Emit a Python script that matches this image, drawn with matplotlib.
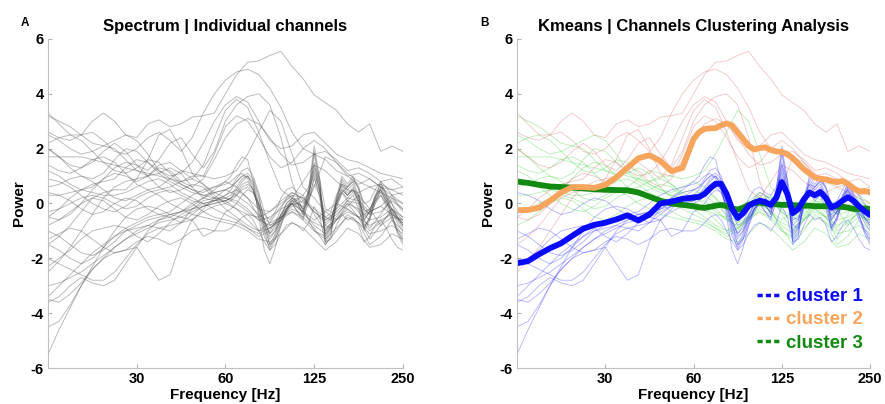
import matplotlib
matplotlib.use("Agg")
import matplotlib.pyplot as plt
from matplotlib.lines import Line2D

plt.rcParams["font.family"] = ["Liberation Sans", "DejaVu Sans"]
plt.rcParams["font.weight"] = "bold"
plt.rcParams["axes.unicode_minus"] = False

# frequency grids (Hz), log2-spaced: 1/8 octave, then 1/16 octave above 62.5 Hz
freq_coarse = [15.63, 17.04, 18.58, 20.26, 22.10, 24.10, 26.28, 28.66, 31.25,
               34.08, 37.16, 40.53, 44.19, 48.19, 52.56, 57.31, 62.5, 68.16,
               74.33, 81.05, 88.39, 96.39, 105.11, 114.63, 125.0, 136.31,
               148.65, 162.10, 176.78, 192.78, 210.22, 229.25, 250.0]
freq_fine = [15.63, 17.04, 18.58, 20.26, 22.10, 24.10, 26.28, 28.66, 31.25,
             34.08, 37.16, 40.53, 44.19, 48.19, 52.56, 57.31, 62.5, 65.26,
             68.16, 71.17, 74.33, 77.62, 81.05, 84.64, 88.39, 92.30, 96.39,
             100.66, 105.11, 109.77, 114.63, 119.70, 125.0, 130.53, 136.31,
             142.35, 148.65, 155.23, 162.10, 169.28, 176.78, 184.60, 192.78,
             201.31, 210.22, 219.53, 229.25, 239.40, 250.0]

tick_freqs = [31.25, 62.5, 125, 250]
tick_labels = ["30", "60", "125", "250"]

# cluster 1 channels (fine grid)
cluster1_channels = [
    [-5.5, -4.6, -3.8, -3.0, -2.4, -2.0, -1.6, -1.3, -1.1, -0.9, -0.7, -0.6, -0.5, -0.3, -0.1, 0.1,
     0.3, 0.5, 0.8, 1.0, 1.0, 0.6, -0.3, -1.2, -1.6, -1.2, -0.6, -0.2, 0.0, -0.3, -0.6, 0.2, 1.8,
     0.6, -1.3, -1.0, 0.1, 0.8, 0.5, 0.7, 0.2, -0.9, -0.5, 0.2, 0.6, 0.2, -0.4, -1.0, -1.4],
    [-4.5, -4.3, -3.7, -3.0, -2.3, -1.6, -1.2, -1.0, -0.9, -0.8, -0.9, -1.0, -0.7, -0.2, 0.1, 0.2,
     0.2, 0.3, 0.6, 0.9, 1.0, 0.7, 0.0, -0.9, -1.5, -1.1, -0.5, 0.0, 0.2, 0.0, -0.4, 0.3, 1.5,
     0.4, -1.2, -0.9, 0.0, 0.6, 0.3, 0.6, 0.0, -1.0, -0.6, 0.0, 0.5, 0.1, -0.5, -0.9, -1.2],
    [-3.6, -3.4, -3.0, -2.7, -2.9, -3.0, -2.8, -2.2, -1.6, -1.0, -0.6, -0.4, -0.3, -0.2, 0.0, 0.1,
     0.1, 0.2, 0.4, 0.7, 0.8, 0.5, -0.2, -1.0, -1.7, -1.3, -0.7, -0.2, 0.1, -0.1, -0.3, 0.4, 1.2,
     0.5, -1.0, -0.7, 0.2, 0.7, 0.4, 0.5, 0.1, -0.6, -0.3, 0.3, 0.5, 0.0, -0.3, -0.7, -1.0],
    [-3.5, -3.6, -3.3, -2.9, -2.4, -2.0, -1.8, -1.7, -1.6, -2.2, -2.8, -2.6, -1.4, -0.6, -1.2, -1.0,
     -0.3, -0.2, 0.0, 0.3, 0.5, 0.4, -0.1, -0.8, -1.3, -1.0, -0.6, -0.2, 0.0, -0.3, -0.5, 0.0, 1.0,
     0.2, -1.1, -0.8, -0.1, 0.4, 0.1, 0.3, -0.2, -0.9, -0.5, 0.0, 0.3, -0.1, -0.6, -1.0, -1.3],
    [-2.3, -2.0, -1.7, -1.3, -1.0, -0.9, -0.8, -0.9, -1.2, -1.4, -1.1, -0.7, -0.4, -0.2, -0.1, 0.0,
     0.1, 0.2, 0.5, 0.8, 1.0, 0.8, 0.2, -0.6, -1.2, -1.0, -0.4, 0.0, 0.2, 0.1, -0.2, 0.5, 1.9,
     0.8, -1.4, -1.1, 0.0, 0.9, 0.6, 0.8, 0.3, -0.6, -0.3, 0.3, 0.7, 0.3, -0.2, -0.6, -0.9],
    [-1.0, -1.2, -1.5, -1.8, -1.9, -1.7, -1.4, -1.0, -0.8, -0.6, -0.5, -0.4, -0.5, -0.6, -0.3, -0.1,
     0.0, 0.1, 0.3, 0.6, 0.7, 0.5, 0.0, -0.6, -1.1, -0.8, -0.4, -0.1, 0.1, 0.0, -0.2, 0.1, 0.7,
     0.3, -0.6, -0.5, 0.0, 0.4, 0.2, 0.4, 0.1, -0.4, -0.2, 0.1, 0.3, 0.0, -0.2, -0.5, -0.8],
    [-3.4, -3.0, -2.6, -2.2, -1.8, -1.5, -1.2, -0.9, -0.7, -0.5, -0.4, -0.5, -0.7, -0.6, -0.2, 0.2,
     0.5, 0.6, 0.8, 1.0, 1.1, 0.9, 0.3, -0.7, -1.5, -1.3, -0.8, -0.3, 0.1, 0.2, 0.0, 0.3, 1.3,
     0.7, -0.8, -0.9, -0.2, 0.4, 0.6, 0.9, 0.6, -0.2, -0.4, 0.1, 0.6, 0.4, 0.0, -0.5, -0.7],
    [-1.5, -1.7, -2.0, -2.2, -2.0, -1.6, -1.0, -0.5, -0.2, -0.1, -0.2, -0.4, -0.3, 0.0, 0.2, 0.4,
     0.5, 0.6, 0.9, 1.2, 1.3, 1.0, 0.4, -0.3, -0.8, -0.7, -0.2, 0.2, 0.4, 0.3, 0.1, 0.4, 1.1,
     0.5, -0.5, -0.6, 0.1, 0.5, 0.3, 0.5, 0.3, -0.3, -0.2, 0.2, 0.5, 0.2, 0.0, -0.3, -0.5],
    [-3.0, -2.9, -2.7, -2.5, -2.2, -1.9, -1.6, -1.3, -1.0, -0.8, -0.6, -0.5, -0.3, -0.1, 0.2, 0.5,
     0.8, 1.0, 1.4, 1.7, 1.6, 0.8, -0.5, -1.7, -2.2, -1.6, -0.8, -0.2, 0.2, 0.0, -0.4, 0.5, 2.1,
     0.9, -1.5, -1.2, 0.2, 1.0, 0.7, 1.0, 0.5, -0.8, -0.6, 0.2, 0.8, 0.3, -0.4, -1.1, -1.5],
    [-2.0, -2.2, -2.4, -2.6, -2.8, -2.8, -2.5, -2.0, -1.5, -1.1, -0.9, -0.8, -0.7, -0.4, -0.1, 0.0,
     0.1, 0.2, 0.3, 0.5, 0.6, 0.4, -0.1, -0.7, -1.1, -0.9, -0.5, -0.2, 0.0, 0.0, -0.1, 0.2, 0.9,
     0.4, -0.8, -0.6, 0.0, 0.5, 0.3, 0.5, 0.2, -0.5, -0.3, 0.1, 0.4, 0.1, -0.2, -0.4, -0.6],
    [-1.3, -1.1, -0.9, -1.0, -1.3, -1.6, -1.8, -1.7, -1.4, -1.2, -1.3, -1.5, -1.3, -1.0, -0.9, -1.0,
     -1.0, -0.9, -0.7, -0.5, -0.4, -0.6, -1.0, -1.4, -1.7, -1.5, -1.1, -0.8, -0.7, -0.8, -1.0, -0.7,
     -0.1, -0.5, -1.4, -1.3, -0.8, -0.4, -0.6, -0.5, -0.8, -1.4, -1.2, -0.8, -0.6, -0.9, -1.3, -1.6,
     -1.7],
    [0.4, 0.3, 0.1, -0.2, -0.4, -0.3, 0.0, 0.2, 0.1, -0.2, -0.4, -0.3, 0.0, 0.3, 0.5, 0.6,
     0.7, 0.8, 1.0, 1.1, 0.9, 0.5, 0.0, -0.4, -0.6, -0.3, 0.2, 0.5, 0.6, 0.4, 0.3, 0.6, 1.4,
     0.9, -0.2, -0.3, 0.3, 0.7, 0.6, 0.8, 0.6, 0.0, 0.1, 0.5, 0.8, 0.6, 0.3, 0.0, -0.2],
]

# cluster 2 channels (coarse grid)
cluster2_channels = [
    [3.3, 2.9, 2.5, 2.5, 3.0, 3.3, 3.0, 2.5, 2.4, 2.9, 3.05, 2.8, 2.9, 3.15, 3.2, 3.3, 4.0,
     4.7, 5.15, 5.2, 5.4, 5.55, 5.0, 4.55, 3.96, 3.68, 3.4, 2.9, 2.6, 2.9, 1.9, 2.1, 1.9],
    [2.6, 2.4, 2.3, 2.5, 2.6, 2.3, 1.9, 1.8, 2.0, 2.4, 2.6, 2.3, 1.9, 2.4, 3.3, 4.0, 4.5,
     4.8, 4.9, 4.7, 4.2, 3.5, 2.6, 2.0, 1.8, 1.9, 1.6, 1.2, 1.3, 1.1, 0.8, 0.9, 0.6],
    [2.0, 1.7, 1.4, 1.3, 1.5, 1.9, 2.2, 1.9, 1.4, 1.2, 1.6, 2.2, 2.4, 1.8, 1.3, 1.9, 3.0,
     3.6, 3.9, 4.0, 3.6, 2.4, 0.8, -0.3, 0.6, 1.7, 1.5, 1.0, 0.7, 0.9, 0.6, 0.3, 0.4],
    [-0.5, -0.2, 0.2, 0.5, 0.7, 0.8, 0.9, 1.3, 1.6, 1.5, 1.2, 1.0, 1.1, 1.5, 2.2, 3.0, 3.6,
     3.9, 3.7, 3.0, 2.3, 2.0, 2.1, 2.5, 2.6, 2.2, 1.8, 1.6, 1.5, 1.3, 1.1, 1.0, 0.9],
    [-1.5, -1.2, -0.8, -0.3, 0.2, 0.4, 0.5, 0.5, 0.9, 1.6, 2.5, 2.7, 2.0, 1.1, 1.0, 1.8, 2.8,
     3.2, 3.0, 2.4, 1.7, 1.3, 1.5, 2.0, 2.3, 2.0, 1.5, 1.1, 0.8, 0.6, 0.7, 0.5, 0.3],
    [-0.5, -0.6, -0.4, 0.0, 0.5, 0.9, 1.1, 1.0, 0.8, 1.0, 1.3, 1.2, 0.8, 0.6, 0.9, 1.6, 2.4,
     2.9, 3.1, 2.9, 2.4, 1.8, 1.4, 1.5, 1.8, 1.6, 1.2, 1.0, 1.1, 0.9, 0.6, 0.5, 0.6],
    [-2.5, -2.1, -1.6, -1.0, -0.4, 0.2, 0.6, 0.8, 0.9, 1.0, 1.4, 1.5, 1.2, 0.9, 1.4, 2.4, 3.4,
     3.8, 3.5, 2.6, 1.5, 0.5, 0.2, 0.8, 1.4, 1.2, 0.8, 0.5, 0.4, 0.6, 0.4, 0.2, 0.0],
]

# cluster 3 channels (coarse grid)
cluster3_channels = [
    [3.2, 3.0, 2.8, 2.5, 2.2, 2.1, 2.3, 2.5, 2.3, 1.8, 1.2, 0.9, 0.8, 0.9, 0.7, 0.4, 0.2,
     0.0, -0.3, -0.6, -0.5, -0.2, 0.0, -0.3, -0.6, -0.3, 0.0, -0.2, -0.5, -0.3, -0.1, -0.4, -0.6],
    [2.5, 2.3, 2.0, 1.8, 1.9, 2.1, 2.0, 1.6, 1.2, 1.0, 1.1, 1.3, 1.1, 0.6, 0.2, 0.1, 0.3,
     0.5, 0.2, -0.5, -0.9, -0.6, 0.0, 0.3, -0.4, -1.0, -0.5, 0.1, -0.3, -0.9, -0.4, 0.2, -0.3],
    [1.7, 1.7, 1.7, 1.7, 1.6, 1.5, 1.4, 1.3, 1.2, 1.1, 1.0, 0.9, 0.7, 0.5, 0.3, 0.2, 0.1,
     -0.2, -0.6, -1.0, -0.7, -0.1, 0.3, -0.2, -1.0, -1.2, -0.6, 0.0, -0.5, -1.3, -0.8, -0.2, -0.8],
    [1.2, 1.0, 0.7, 0.5, 0.6, 0.9, 1.3, 1.5, 1.4, 1.0, 0.6, 0.4, 0.5, 0.7, 0.6, 0.2, -0.2,
     -0.5, -0.8, -1.0, -0.9, -0.6, -0.3, -0.5, -0.9, -1.5, -1.0, -0.4, -0.7, -1.5, -1.2, -0.6, -1.0],
    [0.3, 0.3, 0.4, 0.5, 0.4, 0.3, 0.3, 0.4, 0.6, 0.8, 0.9, 0.7, 0.4, 0.2, 0.0, -0.2, -0.4,
     -0.6, -0.9, -1.2, -1.0, -0.4, 0.0, -0.3, -0.8, -1.1, -0.6, -0.2, -0.5, -1.0, -0.7, -0.3, -0.8],
    [0.9, 0.8, 0.6, 0.3, 0.0, -0.2, -0.3, -0.1, 0.2, 0.4, 0.5, 0.6, 0.8, 1.0, 1.0, 0.9, 1.0,
     1.2, 1.8, 2.6, 3.4, 3.0, 1.8, 0.6, 0.2, -0.3, -0.6, -0.1, 0.3, -0.2, -0.8, -0.5, -0.6],
    [-0.3, -0.2, 0.0, 0.2, 0.3, 0.2, 0.0, -0.2, -0.1, 0.2, 0.4, 0.5, 0.3, 0.1, 0.0, 0.1, 0.2,
     0.1, -0.2, -0.6, -0.8, -0.5, -0.2, -0.4, -0.7, -0.9, -0.6, -0.3, -0.5, -0.8, -0.6, -0.4, -0.7],
    [2.0, 1.7, 1.3, 1.0, 0.9, 1.1, 1.6, 2.0, 1.9, 1.5, 1.1, 0.8, 0.6, 0.4, 0.3, 0.4, 0.5,
     0.3, 0.0, -0.4, -0.7, -0.5, -0.1, 0.1, -0.3, -0.7, -0.4, 0.0, -0.2, -0.6, -0.5, -0.2, -0.5],
    [0.6, 0.7, 0.9, 1.0, 0.8, 0.5, 0.2, 0.1, 0.3, 0.5, 0.3, 0.0, -0.2, -0.4, -0.5, -0.6, -0.7,
     -0.8, -1.0, -1.3, -1.4, -1.1, -0.7, -0.9, -1.3, -1.7, -1.4, -0.9, -1.1, -1.6, -1.5, -1.1, -1.3],
    [1.4, 1.2, 1.1, 1.3, 1.6, 1.7, 1.5, 1.1, 0.7, 0.5, 0.6, 0.9, 1.2, 1.1, 0.7, 0.3, 0.0,
     -0.2, -0.4, -0.5, -0.3, 0.1, 0.4, 0.2, -0.2, -0.5, -0.2, 0.2, 0.1, -0.3, -0.1, 0.3, 0.0],
    [-0.8, -0.6, -0.3, 0.0, 0.2, 0.1, -0.2, -0.5, -0.6, -0.4, -0.1, 0.1, 0.2, 0.0, -0.3, -0.5, -0.6,
     -0.7, -0.9, -1.1, -0.9, -0.5, -0.3, -0.6, -1.0, -1.3, -0.9, -0.5, -0.7, -1.1, -1.0, -0.8, -1.1],
    [2.2, 2.4, 2.5, 2.3, 1.9, 1.5, 1.2, 1.1, 1.3, 1.6, 1.5, 1.1, 0.7, 0.5, 0.4, 0.6, 0.8,
     0.6, 0.2, -0.2, -0.3, 0.0, 0.3, 0.2, -0.3, -0.6, -0.3, 0.1, 0.0, -0.4, -0.3, 0.1, -0.2],
]

# cluster centroids (fine grid)
cluster1_mean = [-2.18, -2.1, -1.85, -1.63, -1.45, -1.18, -0.92, -0.78, -0.7, -0.58, -0.43,
                 -0.62, -0.4, 0.0, 0.07, 0.17, 0.22, 0.24, 0.35, 0.55, 0.72, 0.72, 0.35, -0.2,
                 -0.53, -0.35, -0.08, 0.03, 0.1, 0.05, -0.05, 0.2, 0.78, 0.35, -0.35, -0.2, 0.15,
                 0.4, 0.3, 0.42, 0.2, -0.15, -0.05, 0.1, 0.23, 0.1, -0.1, -0.28, -0.42]
cluster2_mean = [-0.24, -0.24, -0.15, 0.1, 0.4, 0.6, 0.6, 0.57, 0.68, 0.95, 1.3, 1.65, 1.76,
                 1.55, 1.18, 1.3, 2.35, 2.6, 2.72, 2.74, 2.75, 2.85, 2.92, 2.85, 2.6, 2.35, 2.1,
                 1.97, 2.02, 2.05, 1.95, 1.9, 1.88, 1.8, 1.65, 1.45, 1.25, 1.1, 0.95, 0.9, 0.88,
                 0.82, 0.78, 0.82, 0.72, 0.55, 0.45, 0.45, 0.42]
cluster3_mean = [0.8, 0.75, 0.68, 0.62, 0.6, 0.58, 0.55, 0.52, 0.5, 0.49, 0.48, 0.4, 0.25, 0.1,
                 0.0, -0.05, -0.1, -0.14, -0.16, -0.12, -0.08, -0.05, -0.1, -0.18, -0.22, -0.15,
                 -0.05, 0.02, 0.03, 0.0, -0.02, -0.03, -0.05, -0.05, -0.06, -0.07, -0.08, -0.08,
                 -0.1, -0.1, -0.1, -0.1, -0.11, -0.12, -0.15, -0.2, -0.2, -0.18, -0.2]

cluster_names = ["cluster 1", "cluster 2", "cluster 3"]


def style_axes(ax, title):
    ax.set_xscale("log", base=2)
    ax.set_xlim(15.625, 250)
    ax.set_ylim(-6, 6)
    ax.set_xticks(tick_freqs)
    ax.set_xticklabels(tick_labels)
    ax.minorticks_off()
    ax.set_yticks([-6, -4, -2, 0, 2, 4, 6])
    ax.tick_params(direction="in", length=3, color="#b0b0b0", labelsize=10.5, pad=3)
    for lab in ax.get_xticklabels() + ax.get_yticklabels():
        lab.set_fontweight("bold")
    for side in ("top", "right"):
        ax.spines[side].set_visible(False)
    for side in ("left", "bottom"):
        ax.spines[side].set_color("#c0c0c0")
        ax.spines[side].set_linewidth(0.8)
    ax.set_xlabel("Frequency [Hz]", fontsize=11, fontweight="bold", labelpad=1)
    ax.set_ylabel("Power", fontsize=11, fontweight="bold", labelpad=3)
    ax.set_title(title, fontsize=12, fontweight="bold", pad=6)


fig = plt.figure(figsize=(8.85, 4.04), dpi=100)
ax_a = fig.add_axes([0.0542, 0.0891, 0.4011, 0.8144])
ax_b = fig.add_axes([0.5842, 0.0891, 0.3989, 0.8144])

# Panel A: all channels in grey
for ch in cluster1_channels:
    ax_a.plot(freq_fine, ch, color="0.3", alpha=0.38, lw=0.7)
for ch in cluster2_channels + cluster3_channels:
    ax_a.plot(freq_coarse, ch, color="0.3", alpha=0.38, lw=0.7)
style_axes(ax_a, "Spectrum | Individual channels")

# Panel B: channels coloured by cluster + centroids
for ch in cluster3_channels:
    ax_b.plot(freq_coarse, ch, color="#3ad03a", alpha=0.32, lw=0.7)
for ch in cluster2_channels:
    ax_b.plot(freq_coarse, ch, color="#d96060", alpha=0.32, lw=0.7)
for ch in cluster1_channels:
    ax_b.plot(freq_fine, ch, color="#2020ff", alpha=0.3, lw=0.7)

mean_colors = ["#0a0aff", "#f7a55c", "#128a12"]
ax_b.plot(freq_fine, cluster3_mean, color=mean_colors[2], lw=4.2, solid_capstyle="round")
ax_b.plot(freq_fine, cluster2_mean, color=mean_colors[1], lw=4.2, solid_capstyle="round")
ax_b.plot(freq_fine, cluster1_mean, color=mean_colors[0], lw=4.2, solid_capstyle="round")
style_axes(ax_b, "Kmeans | Channels Clustering Analysis")

handles = [Line2D([], [], color=c, lw=2.5, ls=(0, (1.5, 0.9))) for c in mean_colors]
leg = ax_b.legend(handles, cluster_names, loc="lower right", bbox_to_anchor=(0.98, 0.05),
                  frameon=False, handlelength=1.25, handletextpad=0.3, labelspacing=0.32,
                  borderaxespad=0.0, borderpad=0.0,
                  prop={"size": 13.5, "weight": "bold"})
for txt, c in zip(leg.get_texts(), mean_colors):
    txt.set_color(c)

fig.text(0.028, 0.944, "A", fontsize=8.5, fontweight="bold", ha="center", va="center")
fig.text(0.547, 0.944, "B", fontsize=8.5, fontweight="bold", ha="center", va="center")

fig.savefig("out.png", dpi=100)
